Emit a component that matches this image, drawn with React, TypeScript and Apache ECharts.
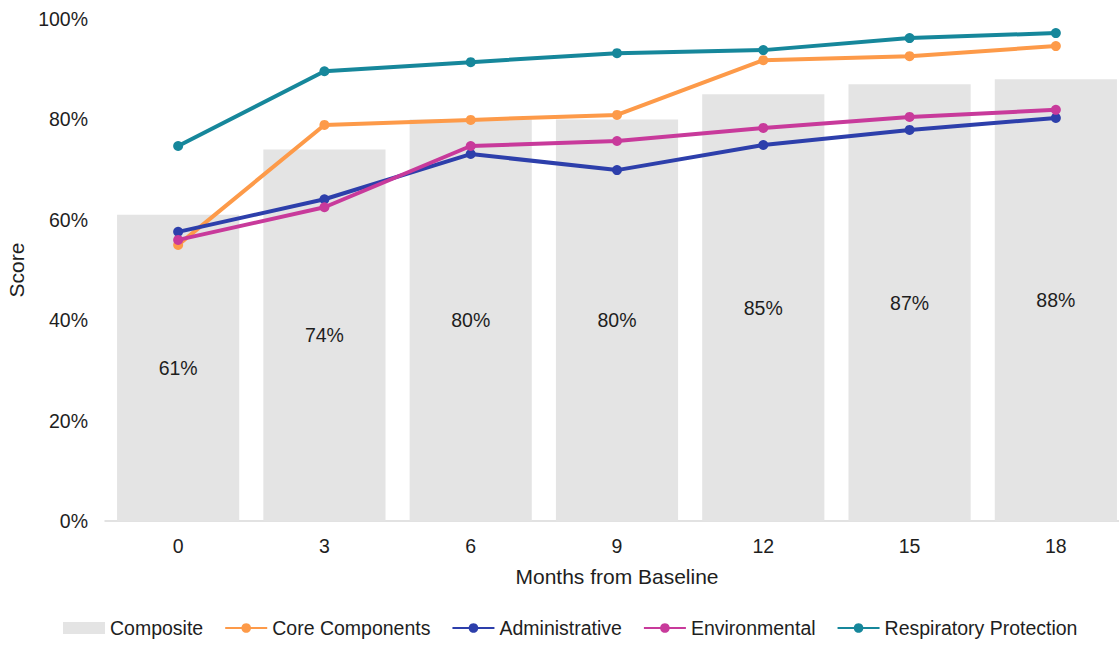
import React, { useEffect, useRef } from "react";
import * as echarts from "echarts";

const months = ["0", "3", "6", "9", "12", "15", "18"];
const composite = [61, 74, 80, 80, 85, 87, 88];
const coreComponents = [55.0, 78.9, 79.9, 80.9, 91.8, 92.6, 94.6];
const administrative = [57.6, 64.1, 73.1, 69.9, 74.9, 77.9, 80.3];
const environmental = [56.0, 62.5, 74.7, 75.7, 78.3, 80.5, 81.9];
const respiratory = [74.7, 89.6, 91.4, 93.2, 93.8, 96.2, 97.2];

const FONT = "'Liberation Sans', Arial, Helvetica, sans-serif";
const TXT = "#1e1e1e";

export default function App() {
  const ref = useRef<HTMLDivElement>(null);
  useEffect(() => {
    if (!ref.current) return;
    const chart = echarts.init(ref.current, undefined, { renderer: "svg" });
    const lineSeries = (name: string, data: number[], color: string) => ({
      name,
      type: "line",
      data,
      symbol: "circle",
      symbolSize: 10,
      lineStyle: { width: 4, color },
      itemStyle: { color },
      z: 3,
    });
    chart.setOption({
      animation: false,
      textStyle: { fontFamily: FONT },
      grid: {
        left: 105,
        width: 1024,
        top: 19,
        bottom: 125,
        containLabel: false,
        outerBoundsMode: "none",
      },
      legend: {
        bottom: 3,
        left: 58,
        itemWidth: 42,
        itemHeight: 12,
        itemGap: 21,
        textStyle: { fontSize: 19.5, color: TXT, fontFamily: FONT },
        data: [
          { name: "Composite", icon: "rect" },
          "Core Components",
          "Administrative",
          "Environmental",
          "Respiratory Protection",
        ],
      },
      xAxis: {
        type: "category",
        data: months,
        name: "Months from Baseline",
        nameLocation: "middle",
        nameGap: 45,
        nameTextStyle: { fontSize: 21, color: TXT, fontFamily: FONT },
        axisLine: { show: true, lineStyle: { color: "#d9d9d9", width: 1.5 } },
        axisTick: { show: false },
        axisLabel: { fontSize: 19.5, color: TXT, margin: 15, fontFamily: FONT },
      },
      yAxis: {
        type: "value",
        min: 0,
        max: 100,
        interval: 20,
        name: "Score",
        nameLocation: "middle",
        nameGap: 76,
        nameTextStyle: { fontSize: 21, color: TXT, fontFamily: FONT },
        axisLine: { show: false },
        axisTick: { show: false },
        splitLine: { show: false },
        axisLabel: { fontSize: 19.5, color: TXT, margin: 17, formatter: "{value}%", fontFamily: FONT },
      },
      series: [
        {
          name: "Composite",
          type: "bar",
          data: composite,
          barCategoryGap: "16.5%",
          itemStyle: { color: "#e4e4e4" },
          label: {
            show: true,
            position: "inside",
            formatter: "{c}%",
            fontSize: 19.5,
            color: TXT,
            fontFamily: FONT,
          },
          z: 1,
        },
        lineSeries("Core Components", coreComponents, "#fd9a49"),
        lineSeries("Administrative", administrative, "#2d3fab"),
        lineSeries("Environmental", environmental, "#c83a9b"),
        lineSeries("Respiratory Protection", respiratory, "#16879b"),
      ],
    });
    return () => chart.dispose();
  }, []);
  return (
    <div
      ref={ref}
      style={{ position: "fixed", left: 0, top: 0, width: 1119, height: 646, background: "#fff" }}
    />
  );
}
